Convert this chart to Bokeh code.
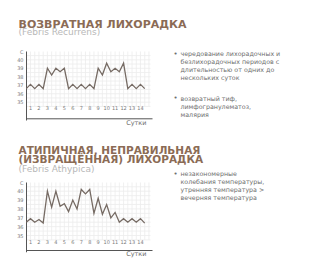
from bokeh.plotting import figure
from bokeh.models import Range1d
from bokeh.embed import file_html
from bokeh.resources import INLINE
from bokeh.core.properties import value

# ---------------- data ----------------
days = [1, 2, 3, 4, 5, 6, 7, 8, 9, 10, 11, 12, 13, 14]
temp_ticks = [35, 36, 37, 38, 39, 40]
times = [0.5, 1, 1.5, 2, 2.5, 3, 3.5, 4, 4.5, 5, 5.5, 6, 6.5, 7, 7.5,
         8, 8.5, 9, 9.5, 10, 10.5, 11, 11.5, 12, 12.5, 13, 13.5, 14, 14.5]
recurrens = [36.6, 37.1, 36.6, 37.1, 36.6, 39.0, 38.2, 39.0, 38.6, 39.0,
             36.6, 37.1, 36.6, 37.1, 36.6, 37.1, 36.6, 39.0, 38.2, 39.6,
             38.6, 39.0, 38.6, 39.6, 36.6, 37.1, 36.6, 37.1, 36.6]
athypica = [36.5, 36.9, 36.5, 36.8, 36.4, 40.0, 38.2, 40.0, 38.3, 38.6,
            37.7, 39.0, 38.0, 40.2, 39.7, 40.2, 37.5, 39.2, 37.4, 38.5,
            37.0, 37.6, 36.5, 36.9, 36.5, 36.9, 36.5, 36.9, 36.4]

title1 = "ВОЗВРАТНАЯ ЛИХОРАДКА"
sub1 = "(Febris Recurrens)"
title2 = ["АТИПИЧНАЯ, НЕПРАВИЛЬНАЯ", "(ИЗВРАЩЁННАЯ) ЛИХОРАДКА"]
sub2 = "(Febris Athypica)"
bullets1 = [["чередование лихорадочных и", "безлихорадочных периодов с",
             "длительностью от одних до", "нескольких суток"],
            ["возвратный тиф,", "лимфогранулематоз,", "малярия"]]
bullets2 = [["незакономерные", "колебания температуры,",
             "утренняя температура >", "вечерняя температура"]]
xlabel = "Сутки"
unit = "С"

# ---------------- styling ----------------
W, H = 309, 268
TFONT = value("DejaVu Sans")
BFONT = value("DejaVu Sans")
TITLE_C = "#8b6b55"
SUB_C = "#b8b8b8"
TEXT_C = "#6e6e6e"
TICK_C = "#7a7a7a"
LINE_C = "#766b64"
GRID_C = "#ececec"
AXIS_C = "#555555"

p = figure(width=W, height=H, x_range=Range1d(0, W), y_range=Range1d(H, 0),
           min_border=0, toolbar_location=None, output_backend="svg",
           x_axis_location=None, y_axis_location=None)
p.grid.visible = False
p.outline_line_color = None
p.background_fill_color = "white"


def add_chart(name, series, px0, kx, py0, ky, top_px, base_px, label_px, sutki_px):
    # day value d -> pixel px0 + kx*(d-1); temperature t -> pixel py0 + ky*(40-t)
    xs = 1 - px0 / kx
    xe = 1 + (W - px0) / kx
    ys = 40 - (H - py0) / ky
    ye = 40 + py0 / ky
    p.extra_x_ranges[name + "x"] = Range1d(xs, xe)
    p.extra_y_ranges[name + "y"] = Range1d(ys, ye)
    rx, ry = name + "x", name + "y"

    def dx(px):
        return 1 + (px - px0) / kx

    def ty(py):
        return 40 - (py - py0) / ky

    x_axis = dx(26)
    x_right = dx(150)
    t_top = ty(top_px)
    t_base = ty(base_px)

    # grid
    gx = [1 + 0.5 * i for i in range(0, 29)]
    gx = [g for g in gx if g < x_right]
    p.segment(x0=gx, x1=gx, y0=[34.5] * len(gx), y1=[t_top] * len(gx),
              x_range_name=rx, y_range_name=ry, line_color=GRID_C, line_width=0.8)
    gy = [34.5 + 0.5 * i for i in range(0, 14)]
    gy = [g for g in gy if g < t_top]
    p.segment(x0=[x_axis] * len(gy), x1=[x_right] * len(gy), y0=gy, y1=gy,
              x_range_name=rx, y_range_name=ry, line_color=GRID_C, line_width=0.8)

    # axes
    p.segment(x0=[x_axis], x1=[x_axis], y0=[t_top], y1=[t_base - 0.2],
              x_range_name=rx, y_range_name=ry, line_color=AXIS_C, line_width=1)
    p.segment(x0=[x_axis], x1=[dx(152)], y0=[t_base], y1=[t_base],
              x_range_name=rx, y_range_name=ry, line_color=AXIS_C, line_width=1)

    # y tick labels
    p.text(x=[dx(23)] * len(temp_ticks), y=temp_ticks,
           text=[str(t) for t in temp_ticks],
           x_range_name=rx, y_range_name=ry, text_font=BFONT,
           text_font_size="5px", text_color=TICK_C,
           text_align="right", text_baseline="middle")
    p.text(x=[dx(23)], y=[40.9], text=[unit],
           x_range_name=rx, y_range_name=ry, text_font=BFONT,
           text_font_size="5px", text_color=TICK_C,
           text_align="right", text_baseline="middle")
    # day labels
    p.text(x=days, y=[ty(label_px)] * len(days), text=[str(d) for d in days],
           x_range_name=rx, y_range_name=ry, text_font=BFONT,
           text_font_size="5px", text_color=TICK_C,
           text_align="center", text_baseline="middle")
    p.text(x=[dx(146)], y=[ty(sutki_px)], text=[xlabel],
           x_range_name=rx, y_range_name=ry, text_font=BFONT,
           text_font_size="6.5px", text_color=TEXT_C,
           text_align="right", text_baseline="middle")

    # data line
    p.line(x=times, y=series, x_range_name=rx, y_range_name=ry,
           line_color=LINE_C, line_width=1.3, line_join="miter")


add_chart("c1", recurrens, 30, 8.46, 59.3, 8.48, 51, 118.3, 107.3, 122)
add_chart("c2", athypica, 30, 8.46, 190.7, 8.86, 182, 250, 241.7, 253.5)

# titles
p.text(x=[18], y=[24], text=[title1], text_font=TFONT, text_font_style="bold",
       text_font_size="11px", text_color=TITLE_C, text_baseline="alphabetic")
p.text(x=[18], y=[31.5], text=[sub1], text_font=TFONT,
       text_font_size="9px", text_color=SUB_C, text_baseline="alphabetic")
p.text(x=[18, 18], y=[149.5, 158], text=title2, text_font=TFONT, text_font_style="bold",
       text_font_size="10.5px", text_color=TITLE_C, text_baseline="alphabetic")
p.text(x=[18], y=[168.5], text=[sub2], text_font=TFONT,
       text_font_size="9px", text_color=SUB_C, text_baseline="alphabetic")


def add_bullets(groups, y0s, pitch):
    for lines, y0 in zip(groups, y0s):
        ys = [y0 + pitch * i for i in range(len(lines))]
        p.text(x=[175], y=[y0], text=["•"], text_font=BFONT, text_font_size="7px",
               text_color=TEXT_C, text_baseline="middle", text_align="center")
        p.text(x=[180] * len(lines), y=ys, text=lines, text_font=BFONT,
               text_font_size="6.3px", text_color=TEXT_C, text_baseline="middle")


add_bullets(bullets1, [53.3, 97.8], 7.9)
add_bullets(bullets2, [173.3], 8.0)

open("out.html", "w").write(file_html(p, INLINE))
